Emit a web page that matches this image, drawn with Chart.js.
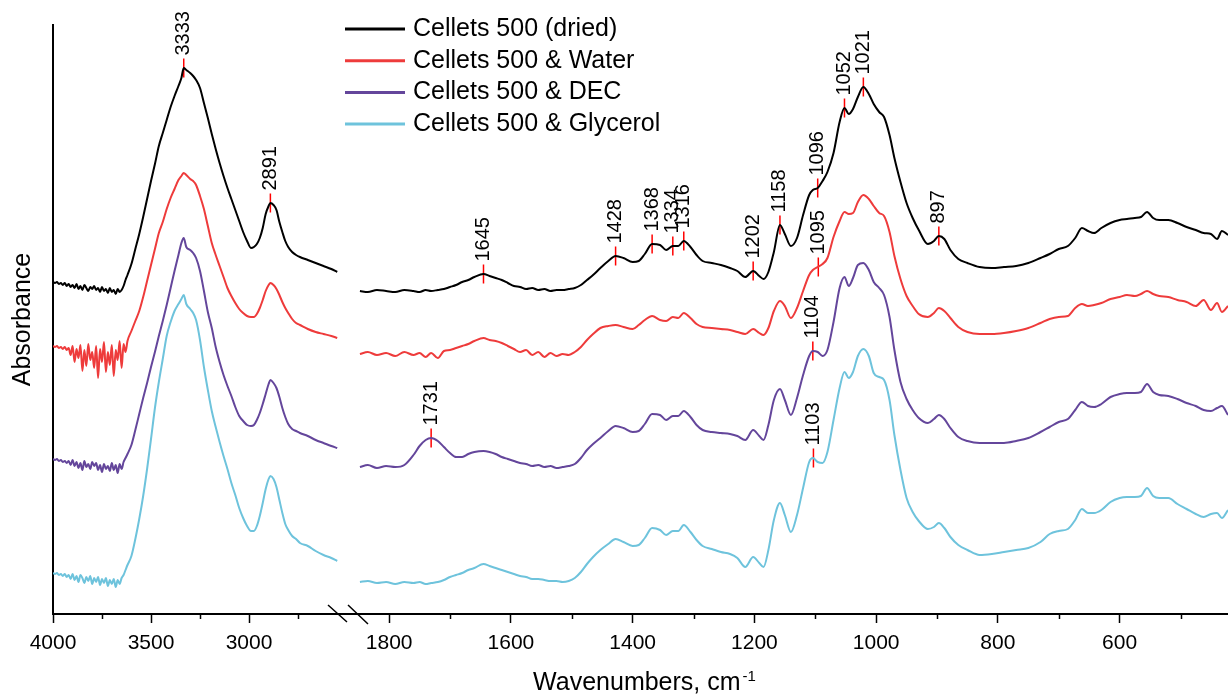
<!DOCTYPE html>
<html>
<head>
<meta charset="utf-8">
<script src="https://cdn.jsdelivr.net/npm/chart.js"></script>
<style>
  html, body { margin: 0; padding: 0; background: #fff; }
  canvas { display: block; }
</style>
</head>
<body>
<canvas id="ftir" width="1228" height="695"></canvas>
<script>
// wavenumber grids (cm-1) for the two parts of the broken axis
const waveLeft = [
  4000, 3990, 3980, 3970, 3960, 3950, 3940, 3930, 3920, 3910,
  3900, 3890, 3880, 3870, 3860, 3850, 3840, 3830, 3820, 3810,
  3800, 3790, 3780, 3770, 3760, 3750, 3740, 3730, 3720, 3710,
  3700, 3690, 3680, 3670, 3660, 3650, 3640, 3630,
  3620, 3600, 3580, 3560, 3540, 3520, 3500, 3480, 3460, 3440,
  3420, 3400, 3380, 3360, 3345, 3333, 3320, 3300, 3285, 3270,
  3250, 3230, 3210, 3190, 3170, 3150, 3130, 3110, 3090, 3070,
  3050, 3030, 3010, 2990, 2975, 2960, 2945, 2930, 2915, 2900,
  2891, 2875, 2860, 2845, 2830, 2815, 2800, 2780, 2760, 2740,
  2700, 2660, 2620, 2580, 2550
];
const waveRight = [
  1848, 1835, 1820, 1805, 1790, 1775, 1760, 1750, 1740, 1731,
  1720, 1710, 1700, 1690, 1680, 1670, 1660, 1645, 1635, 1625,
  1615, 1605, 1595, 1585, 1575, 1565, 1555, 1545, 1535, 1525,
  1515, 1505, 1495, 1485, 1475, 1465, 1453, 1440, 1428, 1415,
  1400, 1390, 1380, 1368, 1355, 1345, 1334, 1325, 1316, 1305,
  1295, 1285, 1270, 1255, 1240, 1228, 1215, 1202, 1192, 1185,
  1177, 1168, 1158, 1150, 1140, 1130, 1120, 1110, 1104, 1096,
  1088, 1080, 1070, 1060, 1052, 1045, 1038, 1030, 1021, 1012,
  1004, 995, 987, 978, 970, 960, 950, 940, 930, 915,
  905, 897, 888, 878, 865, 850, 830, 810, 790, 770,
  750, 730, 715, 700, 685, 673, 662, 652, 642, 630,
  615, 600, 588, 575, 565, 555, 545, 535, 520, 505,
  490, 475, 462, 450, 440, 432, 422
];

// absorbance (a.u., traces offset as in the figure)
const driedLeft = [
  318, 317, 318, 316, 317, 315, 317, 314, 316, 313,
  315, 312, 316, 311, 314, 310, 315, 312, 309, 313,
  311, 314, 310, 312, 308, 313, 309, 311, 307, 312,
  308, 310, 306, 311, 308, 310, 314, 320,
  325, 336, 351, 366, 383, 401, 419, 436, 454, 467,
  480, 493, 504, 514, 522, 532, 530, 527, 524, 520,
  512, 497, 482, 466, 451, 437, 424, 412, 401, 390,
  379, 368, 359, 352, 353, 356, 362, 372, 386, 394,
  397, 395, 390, 378, 368, 359, 353, 348, 345, 343,
  340, 337, 334, 331, 328
];
const waterLeft = [
  254, 253, 254, 252, 253, 251, 253, 250, 252, 245,
  254, 238, 251, 242, 255, 229, 250, 234, 256, 240,
  248, 232, 254, 222, 251, 238, 258, 228, 248, 235,
  255, 224, 250, 240, 259, 232, 256, 248,
  259, 269, 279, 289, 303, 319, 335, 351, 367, 378,
  391, 402, 411, 420, 424, 427, 425, 421, 419, 415,
  404, 391, 374, 357, 345, 334, 323, 312, 304, 297,
  291, 287, 284, 283, 283, 286, 292, 300, 309, 315,
  317, 315, 311, 305, 298, 292, 287, 281, 277, 275,
  271, 268, 266, 264, 262
];
const decLeft = [
  141, 140, 141, 139, 140, 138, 139, 137, 139, 135,
  140, 134, 138, 132, 137, 130, 139, 133, 136, 131,
  138, 134, 137, 130, 135, 128, 136, 131, 134, 129,
  137, 130, 135, 127, 136, 131, 138, 142,
  146, 155, 170, 186, 202, 217, 233, 248, 264, 279,
  295, 312, 329, 345, 357, 362, 353, 350, 347, 342,
  329, 309, 288, 272, 253, 238, 225, 214, 204, 193,
  184, 179, 175, 174, 175, 180, 187, 196, 206, 216,
  220, 217, 212, 203, 192, 183, 176, 171, 169, 167,
  164, 160, 157, 154, 152
];
const glyLeft = [
  27, 26, 27, 25, 26, 24, 26, 23, 25, 21,
  26, 20, 24, 18, 25, 22, 17, 23, 19, 24,
  16, 22, 18, 23, 15, 21, 17, 22, 14, 20,
  16, 21, 13, 20, 16, 22, 25, 30,
  35, 44, 61, 81, 104, 131, 161, 192, 218, 241,
  264, 278, 289, 296, 301, 305, 296, 291, 287, 280,
  260, 233, 210, 189, 173, 158, 144, 131, 117, 105,
  92, 82, 74, 69, 69, 74, 84, 97, 111, 121,
  124, 121, 113, 100, 87, 76, 70, 64, 61, 57,
  54, 49, 45, 42, 39
];

const driedRight = [
  309, 308, 310, 309, 308, 310, 309, 308, 310, 309,
  310, 311, 313, 315, 318, 320, 323, 326, 324, 322,
  320, 317, 314, 313, 311, 312, 310, 311, 309, 310,
  310, 311, 312, 315, 320, 325, 332, 339, 344, 342,
  338, 339, 346, 356, 355, 350, 354, 354, 359, 353,
  345, 339, 337, 335, 332, 329, 323, 329, 324, 321,
  328, 348, 375, 366, 354, 362, 385, 405, 410, 412,
  419, 428, 447, 478, 492, 486, 491, 503, 513, 506,
  496, 488, 483, 465, 442, 418, 397, 382, 370, 356,
  359, 364, 361, 350, 341, 337, 333, 332, 333, 334,
  337, 342, 346, 351, 354, 362, 372, 369, 367, 372,
  377, 380, 381, 382, 383, 388, 382, 380, 380, 377,
  373, 370, 367, 366, 361, 369, 365
];
const waterRight = [
  246, 248, 245, 247, 244, 248, 245, 247, 243, 247,
  242, 249, 250, 252, 254, 256, 259, 262, 260, 259,
  257, 254, 251, 248, 250, 245, 248, 243, 247, 244,
  246, 245, 248, 253, 260, 266, 272, 274, 275, 273,
  271, 275, 280, 284, 280, 279, 283, 282, 287, 282,
  276, 273, 272, 271, 270, 268, 266, 271, 267, 265,
  272, 289, 299, 294, 282, 292, 309, 325, 330, 333,
  336, 342, 363, 379, 388, 386, 387, 398, 405, 401,
  394, 387, 384, 368, 344, 321, 304, 294, 286, 283,
  287, 292, 289, 282, 273, 268, 266, 266, 267, 269,
  272, 277, 281, 283, 284, 292, 296, 294, 295, 297,
  301, 303, 305, 304, 306, 309, 306, 304, 303, 300,
  298, 294, 300, 290, 297, 288, 294
];
const decRight = [
  133, 135, 132, 134, 133, 135, 145, 154, 160, 162,
  159, 153, 147, 143, 143, 146, 148, 149, 148, 146,
  143, 141, 139, 137, 136, 134, 135, 133, 134, 132,
  133, 134, 136, 142, 150, 156, 162, 169, 174, 172,
  168, 169, 176, 186, 185, 180, 184, 184, 189, 183,
  175, 170, 168, 167, 166, 164, 160, 170, 164, 160,
  175, 200, 211, 200, 185, 202, 225, 244, 249, 248,
  244, 250, 278, 312, 323, 314, 322, 335, 337, 330,
  318, 312, 305, 283, 250, 218, 201, 190, 182, 177,
  181, 185, 181, 172, 163, 159, 157, 157, 157, 159,
  162, 168, 173, 178, 181, 190, 198, 194, 193, 196,
  203, 206, 207, 207, 208, 216, 208, 205, 204, 201,
  197, 194, 190, 189, 192, 194, 185
];
const glyRight = [
  18, 19, 17, 18, 16, 18, 17, 18, 16, 17,
  18, 20, 23, 25, 27, 30, 32, 36, 34, 32,
  30, 28, 26, 24, 23, 21, 21, 20, 19, 19,
  18, 19, 22, 28, 36, 43, 50, 56, 61, 58,
  54, 55, 62, 72, 70, 65, 69, 69, 75, 68,
  60, 54, 51, 48, 46, 42, 33, 43, 37, 33,
  50, 80, 97, 85, 68, 85, 112, 138, 142, 138,
  137, 148, 180, 212, 228, 222, 228, 244, 251, 244,
  227, 223, 220, 200, 165, 130, 102, 88, 79, 71,
  73, 77, 72, 63, 55, 50, 45, 46, 48, 50,
  52, 58, 66, 69, 71, 80, 91, 87, 87, 90,
  98, 102, 103, 103, 104, 112, 104, 102, 102, 96,
  91, 86, 83, 86, 87, 82, 90
];

// marked bands: wavenumber and index of the trace it sits on
const peakWave = [3333, 2891, 1645, 1428, 1368, 1334, 1316, 1202, 1158, 1096, 1052, 1021, 897, 1095, 1731, 1104, 1103];
const peakTrace = [0, 0, 0, 0, 0, 0, 0, 0, 0, 0, 0, 0, 0, 1, 2, 2, 3];

const ticksLeft = [4000, 3500, 3000];
const minorLeft = [3750, 3250, 2750];
const ticksRight = [1800, 1600, 1400, 1200, 1000, 800, 600];
const minorRight = [1700, 1500, 1300, 1100, 900, 700, 500];

const FONT = "'Liberation Sans', Arial, Helvetica, sans-serif";
Chart.defaults.font.family = FONT;

const traces = [
  { label: 'Cellets 500 (dried)', color: '#000000', left: driedLeft, right: driedRight },
  { label: 'Cellets 500 & Water', color: '#ee3b3b', left: waterLeft, right: waterRight },
  { label: 'Cellets 500 & DEC', color: '#64469b', left: decLeft, right: decRight },
  { label: 'Cellets 500 & Glycerol', color: '#6ec3dc', left: glyLeft, right: glyRight },
];

const points = (waves, vals) => waves.map((w, i) => ({ x: w, y: vals[i] }));

function traceValue(t, w) {
  const waves = w > 2000 ? waveLeft : waveRight;
  const vals = w > 2000 ? traces[t].left : traces[t].right;
  let best = 0;
  waves.forEach((x, i) => { if (Math.abs(x - w) < Math.abs(waves[best] - w)) best = i; });
  return vals[best];
}

const datasets = [];
traces.forEach(t => {
  const common = {
    borderColor: t.color, borderWidth: 2, pointRadius: 0,
    cubicInterpolationMode: 'monotone', fill: false
  };
  datasets.push({ ...common, label: t.label, xAxisID: 'xl', data: points(waveLeft, t.left) });
  datasets.push({ ...common, label: t.label, xAxisID: 'xr', data: points(waveRight, t.right) });
});

['xl', 'xr'].forEach(axisId => {
  const idx = peakWave.map((w, i) => i).filter(i => (axisId === 'xl') === (peakWave[i] > 2000));
  datasets.push({
    label: 'peaks', xAxisID: axisId, showLine: false,
    pointStyle: 'line', pointRotation: 90, pointRadius: 9.5,
    pointBorderColor: '#ff0000', pointBorderWidth: 1.5,
    peakLabels: idx.map(i => String(peakWave[i])),
    data: idx.map(i => ({ x: peakWave[i], y: traceValue(peakTrace[i], peakWave[i]) }))
  });
});

const peakLabels = {
  id: 'peakLabels',
  afterDatasetsDraw(chart) {
    const ctx = chart.ctx;
    chart.data.datasets.forEach((ds, i) => {
      if (!ds.peakLabels) return;
      chart.getDatasetMeta(i).data.forEach((pt, j) => {
        ctx.save();
        ctx.translate(pt.x, pt.y - ds.pointRadius - 3);
        ctx.rotate(-Math.PI / 2);
        ctx.font = '20px ' + FONT;
        ctx.fillStyle = '#000';
        ctx.textAlign = 'left';
        ctx.textBaseline = 'middle';
        ctx.fillText(ds.peakLabels[j], 0, 0);
        ctx.restore();
      });
    });
  }
};

const extras = {
  id: 'extras',
  afterDraw(chart) {
    const { ctx, chartArea, scales } = chart;
    ctx.save();
    // minor ticks
    ctx.strokeStyle = '#000';
    ctx.lineWidth = 1.5;
    [[scales.xl, minorLeft], [scales.xr, minorRight]].forEach(([s, vals]) => {
      vals.forEach(v => {
        const x = Math.round(s.getPixelForValue(v)) + 0.5;
        ctx.beginPath();
        ctx.moveTo(x, s.top);
        ctx.lineTo(x, s.top + 5);
        ctx.stroke();
      });
    });
    // axis break
    const xb = scales.xl.right, yb = scales.xl.top;
    ctx.beginPath();
    ctx.moveTo(xb - 10, yb - 9); ctx.lineTo(xb + 9, yb + 8);
    ctx.moveTo(xb + 10, yb - 9); ctx.lineTo(xb + 30, yb + 10);
    ctx.stroke();
    // x title with superscript
    ctx.fillStyle = '#000';
    ctx.textBaseline = 'alphabetic';
    ctx.textAlign = 'left';
    const main = 'Wavenumbers, cm', sup = '-1';
    ctx.font = '25px ' + FONT;
    const wMain = ctx.measureText(main).width;
    ctx.font = '15px ' + FONT;
    const wSup = ctx.measureText(sup).width;
    const x0 = (chartArea.left + chartArea.right) / 2 - (wMain + wSup + 2) / 2 + 4;
    ctx.font = '25px ' + FONT;
    ctx.fillText(main, x0, 690);
    ctx.font = '15px ' + FONT;
    ctx.fillText(sup, x0 + wMain + 2, 681);
    // legend
    const lg = chart.options.plugins.extras;
    ctx.textBaseline = 'middle';
    ctx.font = '25px ' + FONT;
    traces.forEach((t, i) => {
      const y = lg.y + i * lg.gap;
      ctx.strokeStyle = t.color;
      ctx.lineWidth = 3;
      ctx.beginPath();
      ctx.moveTo(lg.x, y); ctx.lineTo(lg.x + 60, y);
      ctx.stroke();
      ctx.fillStyle = '#000';
      ctx.fillText(t.label, lg.x + 68, y);
    });
    ctx.restore();
  }
};

const xAxis = (weight, min, max, ticks) => ({
  type: 'linear', axis: 'x', position: 'bottom',
  stack: 'wavenumber', stackWeight: weight,
  reverse: true, min, max,
  afterBuildTicks: s => { s.ticks = ticks.map(v => ({ value: v })); },
  afterFit: s => { s.height = 46; s.paddingLeft = 0; s.paddingRight = 0; },
  ticks: {
    callback: v => String(v), autoSkip: false, maxRotation: 0,
    color: '#000', font: { size: 21 }, padding: 8
  },
  grid: { drawOnChartArea: false, tickLength: 9, tickColor: '#000', tickWidth: 1.5 },
  border: { color: '#000', width: 2 }
});

new Chart(document.getElementById('ftir'), {
  type: 'line',
  data: { datasets },
  options: {
    responsive: false,
    animation: false,
    events: [],
    layout: { autoPadding: false, padding: { top: 25, right: 0, bottom: 35, left: 0 } },
    scales: {
      xl: xAxis(285, 2546, 4000, ticksLeft),
      xr: xAxis(890, 422, 1884, ticksRight),
      y: {
        type: 'linear', position: 'left', min: -14, max: 575,
        afterFit: s => { s.width = 53; },
        ticks: { display: false },
        grid: { display: false },
        border: { display: true, color: '#000', width: 2 },
        title: { display: true, text: 'Absorbance', color: '#000', font: { size: 25 }, padding: { top: 8, bottom: 0 } }
      }
    },
    plugins: {
      legend: { display: false },
      tooltip: { enabled: false },
      extras: { x: 345, y: 29, gap: 31.7 }
    }
  },
  plugins: [peakLabels, extras]
});
</script>
</body>
</html>
